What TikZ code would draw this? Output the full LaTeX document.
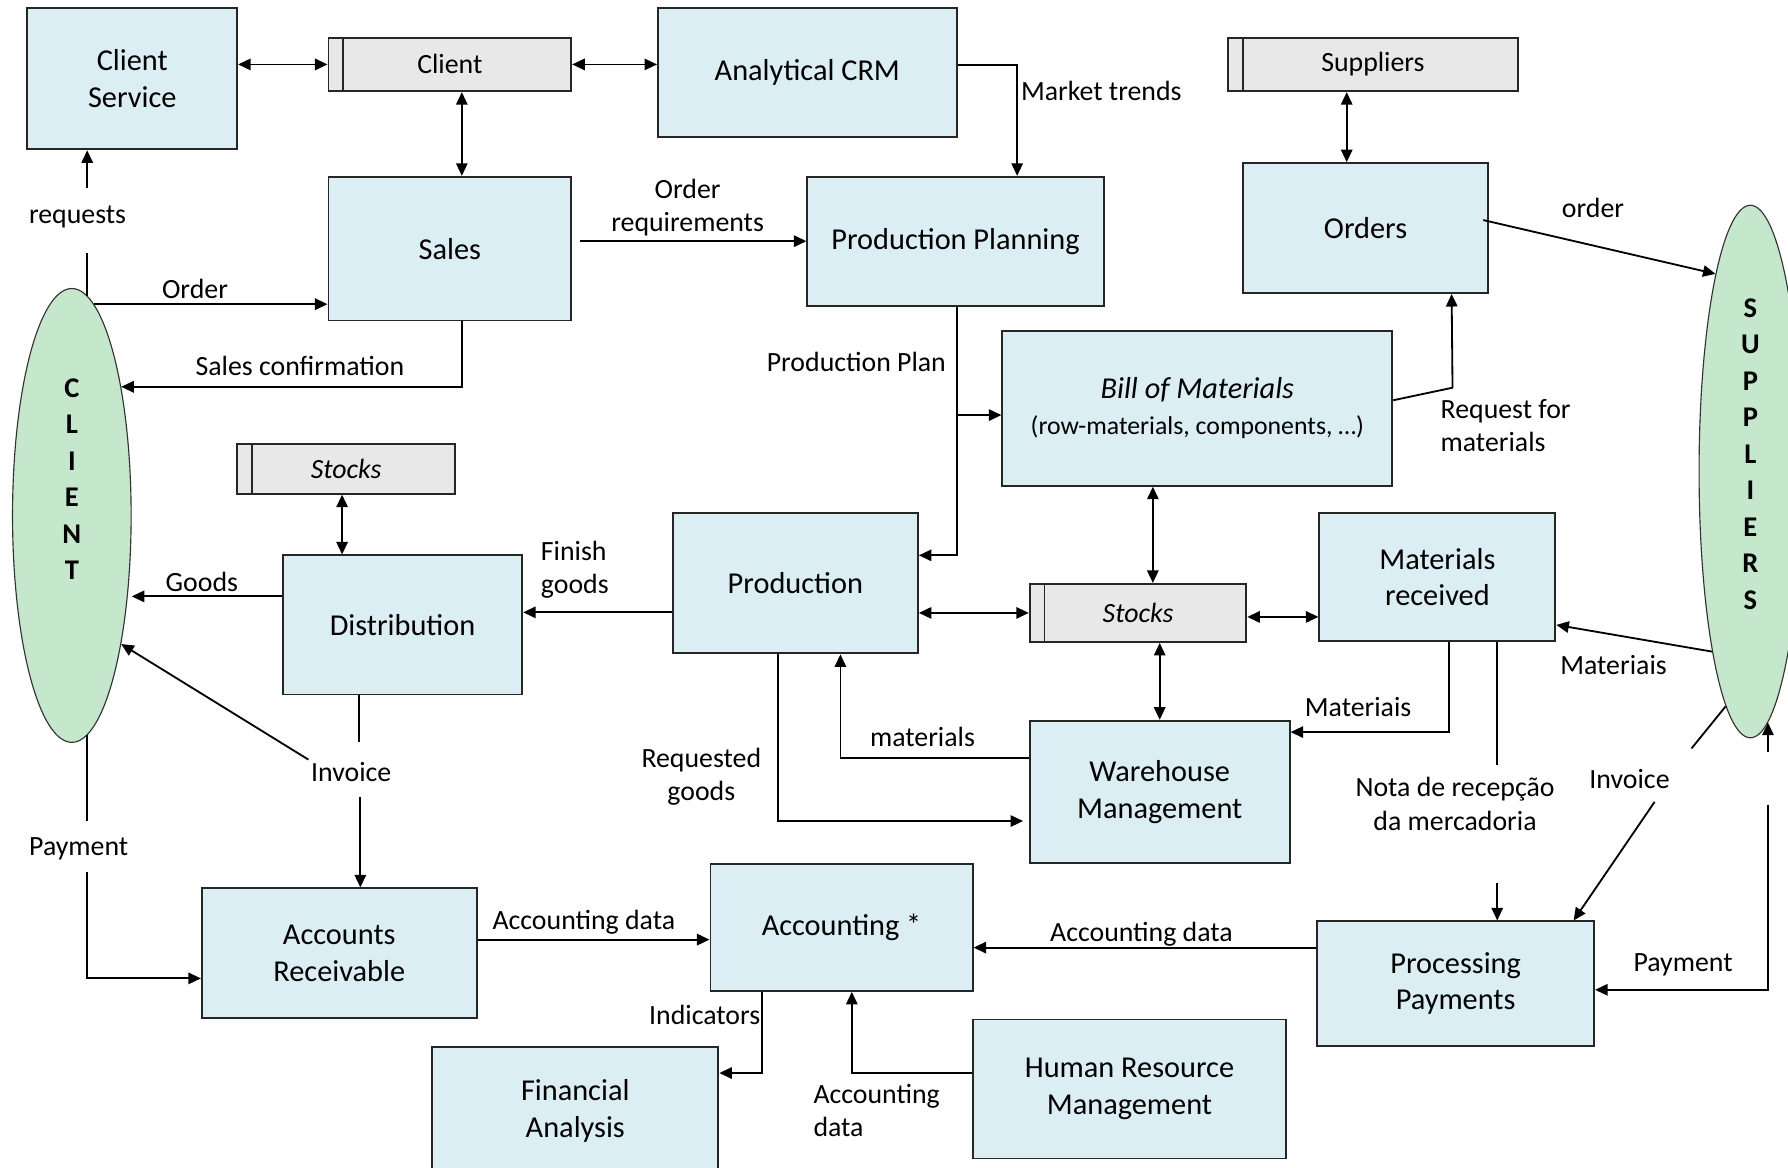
\documentclass[tikz,border=0pt]{standalone}
\usepackage{fontspec}
\setmainfont{Carlito}
\usetikzlibrary{arrows.meta,calc,shapes.geometric}
\definecolor{boxblue}{HTML}{DAEEF3}
\definecolor{storegray}{HTML}{E8E8E8}
\definecolor{actorgreen}{HTML}{C5E7CB}

\begin{document}
\begin{tikzpicture}[
  x=0.5pt, y=-0.5pt,
  box/.style={draw=black!85, line width=0.8pt, fill=boxblue, inner sep=2pt, align=center, font=\fontsize{13.3}{16}\selectfont},
  store/.style={draw=black!85, line width=0.8pt, fill=storegray, inner sep=0pt, font=\fontsize{12.2}{14.5}\selectfont,
    path picture={\draw[line width=0.8pt] ([xshift=6.5pt]path picture bounding box.north west) -- ([xshift=6.5pt]path picture bounding box.south west);}},
  actor/.style={ellipse, draw=black!80, line width=0.5pt, fill=actorgreen, inner sep=0pt},
  letters/.style={align=center, font=\fontsize{12.5}{16}\selectfont\bfseries},
  lbl/.style={align=center, font=\fontsize{12.2}{14.5}\selectfont, inner sep=1pt},
  arr/.style={line width=0.8pt, -{Triangle[length=5.5pt,width=5pt]}},
  dbl/.style={line width=0.8pt, {Triangle[length=5.5pt,width=5pt]}-{Triangle[length=5.5pt,width=5pt]}},
  line/.style={line width=0.8pt}
  ]
  \useasboundingbox (0,0) rectangle (1568,1024);
  \clip (0,0) rectangle (1568,1024);
  \fill[white] (0,0) rectangle (1568,1024);

  % boxes
  \node[box, minimum width=92pt, minimum height=62pt] (csv) at (116,69) {Client\\Service};
  \node[store, minimum width=106.5pt, minimum height=23.5pt] (clst) at (394.5,56.5) {Client};
  \node[box, minimum width=131pt, minimum height=56.5pt] (crm) at (708,63.5) {Analytical CRM};
  \node[box, minimum width=106.5pt, minimum height=63pt] (sales) at (394.5,218) {Sales};
  \node[box, minimum width=130pt, minimum height=56.5pt] (ppl) at (838,211.5) {Production Planning};
  \node[store, minimum width=127pt, minimum height=23.5pt] (supst) at (1204,56.5) {Suppliers};
  \node[box, minimum width=107.5pt, minimum height=57pt] (ord) at (1197.5,200) {Orders};
  \node[box, minimum width=171pt, minimum height=68pt] (bom) at (1050,358) {\textit{Bill of Materials}\\{\fontsize{11.3}{14}\selectfont (row-materials, components, …)}};
  \node[store, minimum width=95.5pt, minimum height=22pt] (stk1) at (303.5,411) {\textit{Stocks}};
  \node[box, minimum width=105pt, minimum height=61pt] (dist) at (353,548) {Distribution};
  \node[box, minimum width=107.5pt, minimum height=61.5pt] (prod) at (697.5,511.5) {Production};
  \node[store, minimum width=95pt, minimum height=25.5pt] (stk2) at (998,537.5) {\textit{Stocks}};
  \node[box, minimum width=103.5pt, minimum height=56pt] (mrec) at (1260.5,506) {Materials\\received};
  \node[box, minimum width=114pt, minimum height=62.5pt] (whm) at (1017,694.5) {Warehouse\\Management};
  \node[box, minimum width=120.5pt, minimum height=57pt] (ar) at (297.5,836) {Accounts\\Receivable};
  \node[box, minimum width=115pt, minimum height=55.5pt] (acc) at (738,813.5) {Accounting *};
  \node[box, minimum width=121.5pt, minimum height=54.5pt] (pp) at (1276.5,862.5) {Processing\\Payments};
  \node[box, minimum width=125.5pt, minimum height=56pt] (fa) at (504.5,974) {Financial\\Analysis};
  \node[box, minimum width=137.5pt, minimum height=61pt] (hrm) at (990.5,955) {Human Resource\\Management};

  % actors
  \node[actor, minimum width=52pt, minimum height=199pt] (cli) at (63,452) {};
  \node[actor, minimum width=45pt, minimum height=233.5pt] (sup) at (1535,413.5) {};
  \node[letters] (clitxt) at (63,420) {C\\L\\I\\E\\N\\T};
  \node[letters] (suptxt) at (1535,398) {S\\U\\P\\P\\L\\I\\E\\R\\S};

  % labels
  \node[lbl] (lreq) at (68,190) {requests};
  \node[lbl] (lord) at (171,253) {Order};
  \node[lbl] (lscf) at (263,321) {Sales confirmation};
  \node[lbl] (lordreq) at (603,182) {Order\\requirements};
  \node[lbl, anchor=west] (lmkt) at (893,80) {Market trends};
  \node[lbl] (lpplan) at (751,317) {Production Plan};
  \node[lbl, anchor=west, align=left] (lreqm) at (1261,373) {Request for\\materials};
  \node[lbl] (lorder) at (1397,182) {order};
  \node[lbl] (lgoods) at (177,510) {Goods};
  \node[lbl, anchor=west, align=left] (lfin) at (472,500) {Finish\\goods};
  \node[lbl] (lmat1) at (1191,620) {Materiais};
  \node[lbl] (lmat2) at (1415,583) {Materiais};
  \node[lbl] (lmat3) at (809,646) {materials};
  \node[lbl] (lrqg) at (615,681) {Requested\\goods};
  \node[lbl] (lnota) at (1276,705) {Nota de recepção\\da mercadoria};
  \node[lbl] (linv2) at (1429,683) {Invoice};
  \node[lbl] (linv1) at (308,677) {Invoice};
  \node[lbl] (lpay1) at (69,744) {Payment};
  \node[lbl] (lpay2) at (1476,846) {Payment};
  \node[lbl] (lacd1) at (512,809) {Accounting data};
  \node[lbl] (lacd2) at (1001,819) {Accounting data};
  \node[lbl] (lind) at (618,890) {Indicators};
  \node[lbl, anchor=west, align=left] (lacd3) at (711,974) {Accounting\\data};

  % connectors
  \draw[dbl] (csv.east |- clst) -- (clst.west);
  \draw[dbl] (clst.east) -- (clst.east -| crm.west);
  \draw[dbl] ([xshift=5.25pt]clst.south) -- ([xshift=5.25pt]clst.south |- sales.north);
  \draw[arr] ([yshift=3.25pt]crm.east) -| ([xshift=27pt]ppl.north);
  \draw[arr] ([xshift=3.5pt]sales.east |- ppl.west) -- (ppl.west);
  \draw[line] (cli.86.1) -- ++(0,-37);
  \draw[arr] ($(cli.86.1)+(0,-94)$) -- (cli.86.1 |- csv.south);
  \draw[arr] (cli.84.8) -- (cli.84.8 -| sales.west);
  \draw[arr] ([xshift=5.25pt]sales.south) |- (cli.69.2);
  \draw[arr] ([xshift=0.5pt]ppl.south) |- ([yshift=12.25pt]prod.east);
  \coordinate (bomin) at ([yshift=-3pt]bom.west);
  \draw[arr] ([xshift=0.5pt]ppl.south |- bomin) -- (bomin);
  \draw[arr] ([yshift=3.5pt]bom.east) -- ++(52,-11) -- ([xshift=37.75pt]ord.south);
  \draw[dbl] ([xshift=-11.5pt]supst.south) -- ([xshift=-11.5pt]supst.south |- ord.north);
  \draw[arr] ([xshift=-2.5pt,yshift=3.5pt]ord.east) -- (sup.100.6);
  \draw[dbl] ([xshift=-19.5pt]bom.south) -- ([xshift=-19.5pt]bom.south |- stk2.north);
  \draw[dbl] ([xshift=-1.75pt]stk1.south) -- ([xshift=-1.75pt]stk1.south |- dist.north);
  \draw[arr] ([yshift=12.5pt]dist.west) -- ([yshift=12.5pt]dist.west -| cli.east);
  \draw[arr] ([yshift=-12.75pt]prod.west) -- ([yshift=-12.75pt]prod.west -| dist.east);
  \draw[dbl] (prod.east |- stk2) -- (stk2.west);
  \draw[dbl] ([yshift=-1.75pt]stk2.east) -- ([yshift=-1.75pt]stk2.east -| mrec.west);
  \draw[dbl] (stk2.south -| whm) -- (whm.north);
  \draw[arr] ([xshift=5.25pt]mrec.south) |- ([yshift=26.25pt]whm.east);
  \draw[arr] (sup.258.2) -- ([yshift=-21pt]mrec.east);
  \draw[arr] ([yshift=14.75pt]whm.west) -| ([xshift=19.75pt]prod.south);
  \draw[arr] ([xshift=-7.75pt]prod.south) |- ([xshift=-2.5pt,yshift=-12.75pt]whm.west);
  \draw[line] ([xshift=26.25pt]mrec.south) -- ++(0,108);
  \draw[arr] ($(pp.north)+(36.5,-33)$) -- ([xshift=18.25pt]pp.north);
  \draw[line] (sup.264.3) -- ++(-30,37);
  \draw[arr] ($(pp.north)+(174.5,-104)$) -- ([xshift=51.75pt]pp.north);
  \draw[arr] ($(sup.274.2)+(0,26)$) -- (sup.274.2);
  \draw[arr] ($(sup.274.2)+(0,72)$) |- ([yshift=-2.75pt]pp.east);
  \draw[line] ([xshift=-19pt]dist.south) -- ++(0,41);
  \draw[arr] ($(ar.north)+(18.5,-79)$) -- ([xshift=9.25pt]ar.north);
  \draw[arr] (linv1.north west) -- (cli.-69.5);
  \draw[line] (cli.-86.1) -- ++(0,75);
  \draw[arr] ($(cli.-86.1)+(0,120)$) |- ([yshift=-11pt]ar.west);
  \draw[arr] ([yshift=6pt]ar.east) -- ([yshift=6pt]ar.east -| acc.west);
  \draw[arr] ([yshift=15.75pt]pp.west) -- ([yshift=15.75pt]pp.west -| acc.east);
  \draw[arr] ([xshift=-35pt]acc.south) |- ([yshift=16.5pt]fa.east);
  \draw[arr] ([yshift=7pt]hrm.west) -| ([xshift=4.5pt]acc.south);
\end{tikzpicture}
\end{document}
